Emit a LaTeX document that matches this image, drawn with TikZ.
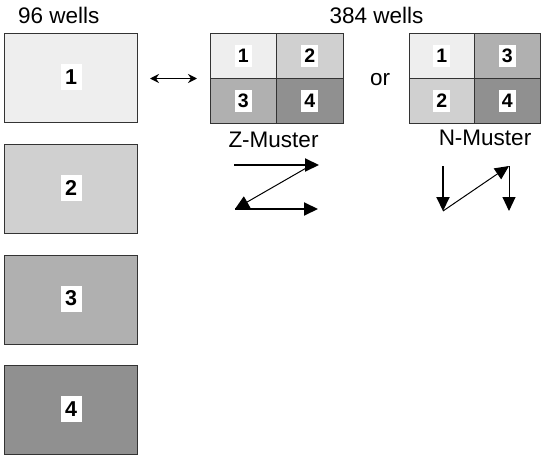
\documentclass[tikz,border=0pt]{standalone}
\usepackage{fontspec}
\setmainfont{Liberation Sans}
\usetikzlibrary{arrows.meta}
\definecolor{c1}{HTML}{EEEEEE}
\definecolor{c2}{HTML}{D0D0D0}
\definecolor{c3}{HTML}{B0B0B0}
\definecolor{c4}{HTML}{909090}
\definecolor{edge}{HTML}{333333}
\begin{document}
\begin{tikzpicture}[x=1pt,y=-1pt,
  plate/.style={draw=edge,line width=1pt,minimum width=133pt,minimum height=89pt,inner sep=0pt},
  cell/.style={draw=edge,line width=0.8pt,minimum width=66.5pt,minimum height=45pt,inner sep=0pt},
  ncell/.style={draw=edge,line width=0.8pt,minimum width=65.5pt,minimum height=45pt,inner sep=0pt},
  biglab/.style={fill=white,minimum width=21pt,minimum height=26pt,inner sep=0pt,font=\bfseries\fontsize{21.5}{21.5}\selectfont},
  smalllab/.style={fill=white,minimum width=17pt,minimum height=22pt,inner sep=0pt,font=\bfseries\fontsize{19.5}{19.5}\selectfont},
  head/.style={inner sep=0pt,font=\fontsize{22.5}{22.5}\selectfont},
  thickarr/.style={line width=2pt,-{Triangle[length=14pt,width=13pt]}},
  thinarr/.style={line width=1pt,-{Triangle[length=14pt,width=13pt]}},
  dblarr/.style={line width=1.6pt,{Stealth[length=9pt,width=9pt]}-{Stealth[length=9pt,width=9pt]}}
]
\useasboundingbox (0,0) rectangle (541,455);

% 96-well plates
\node[head] (t96) at (58.7,15) {96 wells};
\node[plate,fill=c1] (b1) at (70.5,78) {};
\node[plate,fill=c2] (b2) at (70.5,189) {};
\node[plate,fill=c3] (b3) at (70.5,299.5) {};
\node[plate,fill=c4] (b4) at (70.5,410) {};
\node[biglab] (l1) at (71,77) {1};
\node[biglab] (l2) at (71,188) {2};
\node[biglab] (l3) at (71,298.5) {3};
\node[biglab] (l4) at (71,409) {4};

% double arrow
\coordinate (da) at (150,78.5);
\coordinate (db) at (197,78.5);
\draw[dblarr] (da) -- (db);

% 384 heading
\node[head] (t384) at (376.5,15) {384 wells};

% Z plate
\node[cell,fill=c1] (z1) at (243.25,55.5) {};
\node[cell,fill=c2] (z2) at (309.75,55.5) {};
\node[cell,fill=c3] (z3) at (243.25,100.5) {};
\node[cell,fill=c4] (z4) at (309.75,100.5) {};
\node[smalllab] at (z1) {1};
\node[smalllab] at (z2) {2};
\node[smalllab] at (z3) {3};
\node[smalllab] at (z4) {4};
\node[head] (zm) at (273.5,140) {Z-Muster};

\node[head] (or) at (380,80) {or};

% N plate
\node[ncell,fill=c1] (n1) at (441.75,56) {};
\node[ncell,fill=c3] (n3) at (507.25,56) {};
\node[ncell,fill=c2] (n2) at (441.75,101) {};
\node[ncell,fill=c4] (n4) at (507.25,101) {};
\node[smalllab] at (n1) {1};
\node[smalllab] at (n3) {3};
\node[smalllab] at (n2) {2};
\node[smalllab] at (n4) {4};
\node[head] (nm) at (485,138) {N-Muster};

% Z pattern arrows
\coordinate (za) at (234,165);
\coordinate (zb) at (319,165);
\coordinate (zc) at (308,167);
\coordinate (zd) at (235,209);
\coordinate (ze) at (318,209);
\draw[thickarr] (za) -- (zb);
\draw[thinarr] (zc) -- (zd);
\draw[thickarr] (zd) -- (ze);

% N pattern arrows
\coordinate (na) at (443,166);
\coordinate (nb) at (443,211);
\coordinate (nc) at (509,166);
\coordinate (nd) at (509,211);
\draw[thickarr] (na) -- (nb);
\draw[thinarr] (nb) -- (nc);
\draw[thinarr] (nc) -- (nd);
\end{tikzpicture}
\end{document}
